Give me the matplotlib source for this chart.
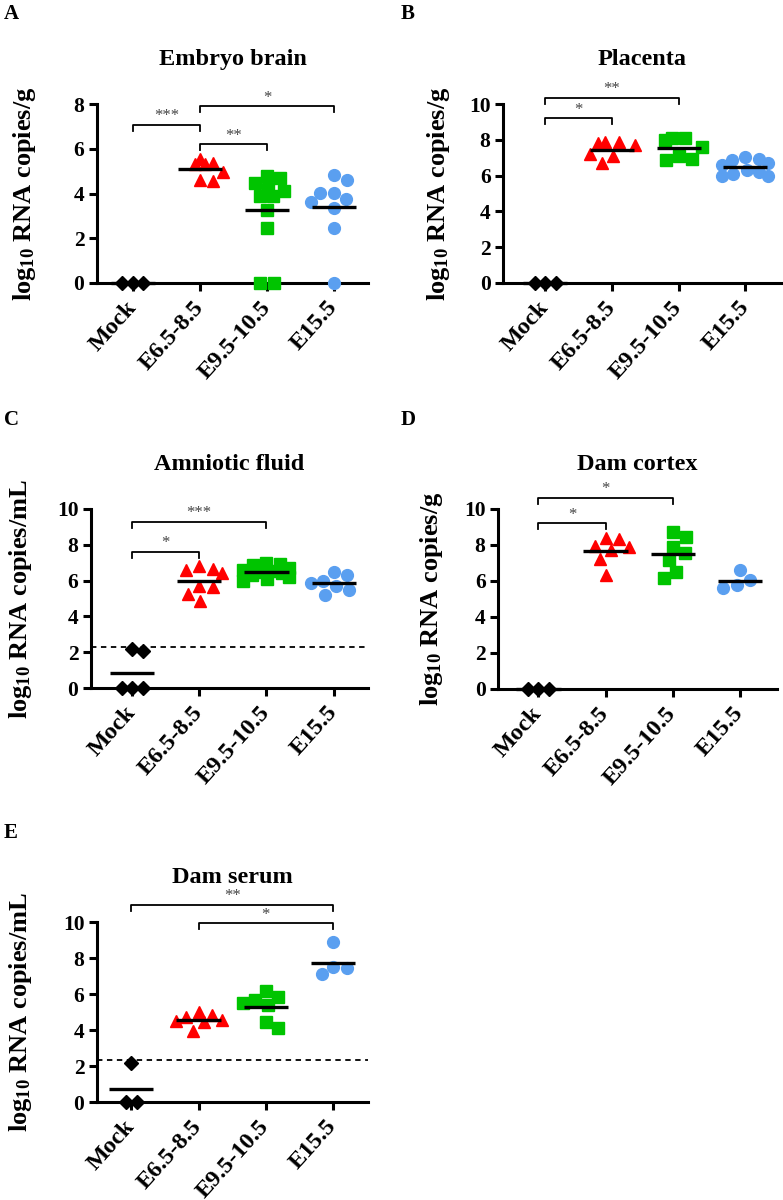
import numpy as np
import matplotlib
matplotlib.use('Agg')
import matplotlib.pyplot as plt

plt.rcParams['font.family'] = ['Liberation Serif', 'DejaVu Serif']
plt.rcParams['font.weight'] = 'bold'
plt.rcParams['mathtext.fontset'] = 'custom'
plt.rcParams['mathtext.rm'] = 'Liberation Serif:bold'
plt.rcParams['mathtext.bf'] = 'Liberation Serif:bold'
plt.rcParams['mathtext.default'] = 'bf'

groups = ['Mock', 'E6.5-8.5', 'E9.5-10.5', 'E15.5']

# panel A - embryo brain
mock_A = [0, 0, 0]
e65_A = [5.53, 5.32, 4.98, 4.54, 4.61, 5.32, 5.38]
e95_A = [4.79, 4.71, 4.49, 4.13, 4.19, 3.87, 3.87, 3.27, 2.45, 0, 0]
e155_A = [4.83, 4.61, 4.04, 4.01, 3.75, 3.64, 3.35, 2.48, 0]
sig_A = [(1, 2, 7.06, '***'), (2, 3, 6.2, '**'), (2, 4, 7.9, '*')]

# panel B - placenta
mock_B = [0, 0, 0]
e65_B = [7.85, 7.8, 7.7, 7.85, 7.2, 7.1, 6.7]
e95_B = [8.1, 8.0, 8.1, 7.6, 7.1, 6.85, 6.9]
e155_B = [7.05, 6.9, 6.85, 6.7, 6.6, 6.3, 6.2, 6.1, 6.0, 5.95]
sig_B = [(1, 2, 9.2, '*'), (1, 3, 10.35, '**')]

# panel C - amniotic fluid
mock_C = [2.2, 2.05, 0, 0, 0]
e65_C = [6.8, 6.6, 6.65, 6.4, 5.65, 5.7, 5.25, 4.85]
e95_C = [7.0, 6.9, 6.85, 6.7, 6.6, 6.55, 6.5, 6.4, 6.3, 6.2, 6.1, 5.95]
e155_C = [6.5, 5.85, 6.3, 6.0, 5.2, 5.7, 5.5]
sig_C = [(1, 2, 7.62, '*'), (1, 3, 9.29, '***')]

# panel D - dam cortex
mock_D = [0, 0, 0]
e65_D = [8.4, 8.35, 7.95, 7.9, 7.7, 7.2, 6.35]
e95_D = [8.46, 8.74, 7.9, 7.54, 7.17, 6.52, 6.15]
e155_D = [6.06, 6.61, 5.78, 5.59]
sig_D = [(1, 2, 9.2, '*'), (1, 3, 10.63, '*')]

# panel E - dam serum
mock_E = [2.15, 0, 0]
e65_E = [4.85, 5.0, 4.75, 4.5, 4.55, 3.95, 4.45]
e95_E = [6.15, 5.85, 5.65, 5.4, 5.5, 4.1, 4.45]
e155_E = [8.9, 7.52, 7.46, 7.11]
sig_E = [(1, 4, 10.94, '**'), (2, 4, 9.93, '*')]

limit_C = 2.31
limit_E = 2.33

markers = ['D', '^', 's', 'o']
msizes = [7.5, 9, 8.5, 8.5]
colors = ['black', '#ff0000', '#00c400', '#5a9ff0']

W, H = 783, 1200
fig = plt.figure(figsize=(W / 100, H / 100), dpi=100)


def swarm(vals, ppx, ppy, dmin, maxw=23):
    # simple beeswarm limited to +-maxw px, offsets returned in data units
    vals = np.asarray(vals, dtype=float)
    order = np.argsort(-vals, kind='stable')
    cand = np.arange(0, maxw + 0.1, 0.5)
    cand = np.ravel(np.column_stack([cand, -cand]))
    placed = []
    offs = np.zeros(len(vals))
    for i in order:
        yp = vals[i] * ppy
        best, bestd = 0.0, -1
        for xp in cand:
            d = min([np.hypot(xp - px, yp - py) for px, py in placed] + [1e9])
            if d >= dmin:
                best = xp
                break
            if d > bestd:
                best, bestd = xp, d
        placed.append((best, yp))
        offs[i] = best / ppx
    # center rows of identical values
    for v in np.unique(vals):
        idx = np.where(vals == v)[0]
        if len(idx) > 1:
            offs[idx] -= offs[idx].mean()
    return offs


def panel(px_left, px_right, py_bottom, py_top, xlim, ytop, data, sig, title,
          ylab, letter, letter_xy, lab_x, limit=None):
    ax = fig.add_axes([px_left / W, 1 - py_bottom / H,
                       (px_right - px_left) / W, (py_bottom - py_top) / H])
    ax.set_xlim(*xlim)
    ax.set_ylim(0, ytop)
    ppx = (px_right - px_left) / (xlim[1] - xlim[0])
    ppy = (py_bottom - py_top) / ytop
    for g, vals in enumerate(data):
        dmin = 10.5 if g == 0 else 13.5
        offs = swarm(vals, ppx, ppy, dmin)
        ax.plot(g + 1 + offs, vals, linestyle='none', marker=markers[g],
                ms=msizes[g], color=colors[g], mec=colors[g], clip_on=False, zorder=3)
        m = np.mean(vals)
        ax.plot([g + 1 - 0.33, g + 1 + 0.33], [m, m], color='black', lw=2.4,
                solid_capstyle='butt', zorder=4, clip_on=False)
    if limit is not None:
        ax.axhline(limit, color='black', lw=1.3, ls=(0, (3, 2.5)), zorder=2)
    h = 6 / ppy
    for x1, x2, y, s in sig:
        ax.plot([x1, x1, x2, x2], [y - h, y, y, y - h], color='black', lw=1.3,
                clip_on=False)
        ax.annotate(s, xy=((x1 + x2) / 2, y), xytext=(0, 0.5), textcoords='offset points',
                    ha='center', va='bottom', fontsize=12, color='#444444',
                    fontweight='normal', annotation_clip=False)
    for side in ['top', 'right']:
        ax.spines[side].set_visible(False)
    for side in ['left', 'bottom']:
        ax.spines[side].set_linewidth(2.2)
    ax.spines['left'].set_bounds(0, ytop)
    ax.set_yticks(np.arange(0, ytop + 1, 2))
    ax.set_xticks([1, 2, 3, 4])
    ax.set_xticklabels(groups, rotation=48, ha='right', va='center',
                       rotation_mode='anchor', fontsize=17.5)
    ax.tick_params(width=2.2, length=6, pad=3)
    ax.tick_params(axis='y', labelsize=15.5)
    ax.tick_params(axis='x', pad=9)
    ax.set_title(title, fontsize=17.5, fontweight='bold', pad=28)
    ax.set_ylabel(ylab, fontsize=19, fontweight='bold')
    ax.yaxis.set_label_coords((lab_x - px_left) / (px_right - px_left), 0.5)
    fig.text(letter_xy[0] / W, 1 - letter_xy[1] / H, letter, fontsize=15,
             fontweight='bold', ha='left', va='top')
    return ax


panel(97, 368, 283, 104, (0.463, 4.508), 8, [mock_A, e65_A, e95_A, e155_A], sig_A,
      'Embryo brain', r'log$_{10}$ RNA copies/g', 'A', (4, 4), 38)
panel(503, 782, 283, 104, (0.37, 4.55), 10, [mock_B, e65_B, e95_B, e155_B], sig_B,
      'Placenta', r'log$_{10}$ RNA copies/g', 'B', (401, 4), 452)
panel(91, 368, 688, 509, (0.39, 4.51), 10, [mock_C, e65_C, e95_C, e155_C], sig_C,
      'Amniotic fluid', r'log$_{10}$ RNA copies/mL', 'C', (4, 410), 34, limit=limit_C)
panel(498, 777, 689, 509, (0.40, 4.55), 10, [mock_D, e65_D, e95_D, e155_D], sig_D,
      'Dam cortex', r'log$_{10}$ RNA copies/g', 'D', (401, 410), 445)
panel(97, 368, 1102, 922, (0.49, 4.52), 10, [mock_E, e65_E, e95_E, e155_E], sig_E,
      'Dam serum', r'log$_{10}$ RNA copies/mL', 'E', (4, 823), 34, limit=limit_E)

fig.savefig('out.png', dpi=100)
